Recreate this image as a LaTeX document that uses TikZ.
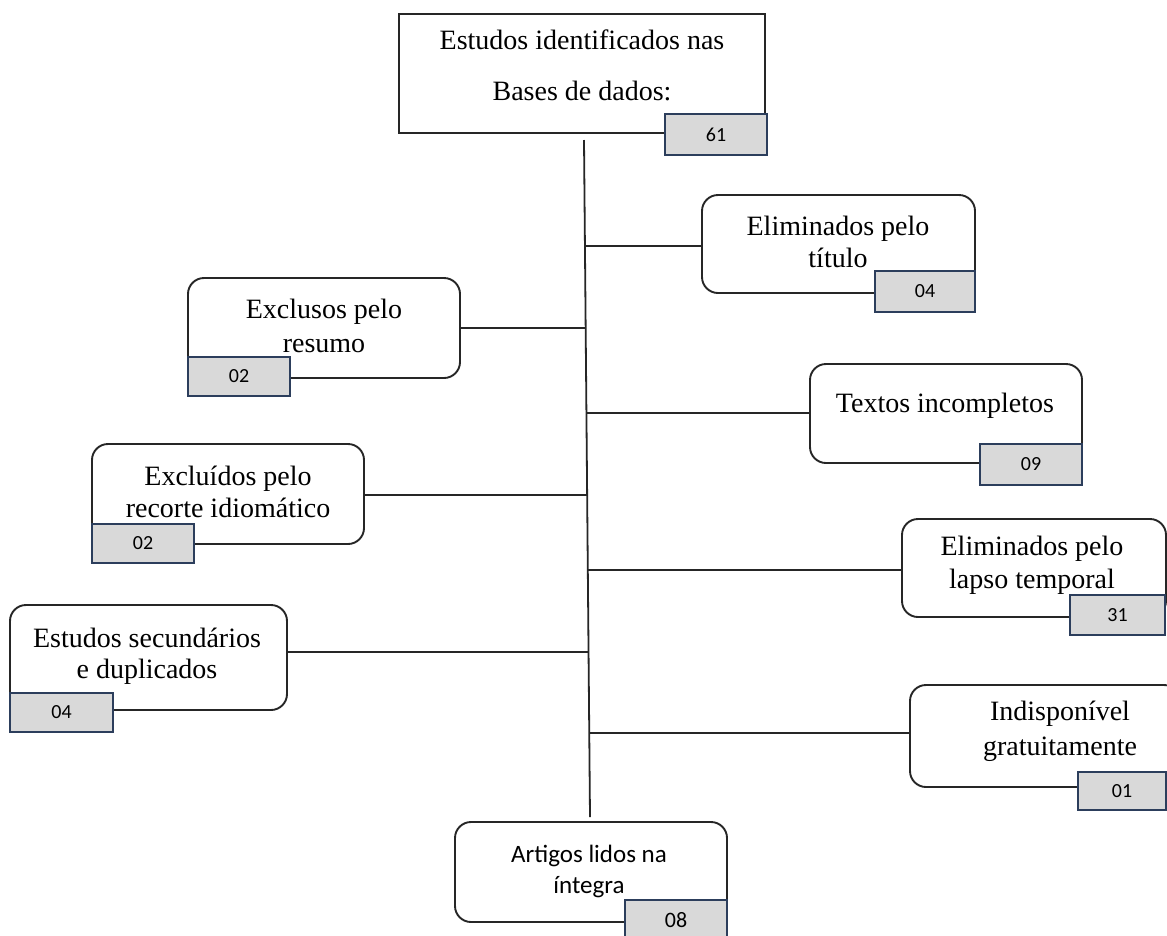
\documentclass[tikz,border=0pt]{standalone}
\usepackage{fontspec}
\setmainfont{Liberation Serif}
\newfontfamily\calfont{Carlito}
\definecolor{numblue}{RGB}{44,62,92}
\definecolor{numgray}{RGB}{217,217,217}
\newcommand\rbox[7]{\node[#1, minimum width={(#5)-(#3)}, minimum height={(#6)-(#4)}] (#2) at ({((#3)+(#5))/2},{((#4)+(#6))/2}) {#7};}
\tikzset{
  big/.style={draw=black!85, line width=1.9pt, rounded corners=16pt, fill=white, inner sep=0pt},
  topbox/.style={draw=black!85, line width=1.9pt, fill=white, inner sep=0pt},
  num/.style={draw=numblue, fill=numgray, line width=1.8pt, inner sep=0pt, font=\calfont\fontsize{20}{24}\selectfont},
  lbl/.style={font=\fontsize{28}{33}\selectfont, anchor=base, inner sep=0pt},
  clbl/.style={font=\calfont\fontsize{25}{30}\selectfont, anchor=base, inner sep=0pt},
  link/.style={draw=black!85, line width=1.8pt},
}
\begin{document}
\begin{tikzpicture}[x=1pt,y=-1pt]
\useasboundingbox (0,0) rectangle (1167,935);
\clip (0,0) rectangle (1167,935);
\fill[white] (0,0) rectangle (1167,935);
% trunk coordinates
\coordinate (trTop) at (584,140);
\coordinate (trBot) at (590,817);
\coordinate (j1) at (585,246);
\coordinate (j2) at (586,328);
\coordinate (j3) at (586.4,413);
\coordinate (j4) at (587.1,495);
\coordinate (j5) at (587.8,570);
\coordinate (j6) at (588.5,652);
\coordinate (j7) at (589.3,733);
% boxes
\rbox{topbox}{top}{399}{14}{765}{133}{}
\rbox{big}{titulo}{702}{195}{975}{293}{}
\rbox{big}{resumo}{188}{278}{460}{378}{}
\rbox{big}{textos}{810}{364}{1082}{463}{}
\rbox{big}{idiom}{92}{444}{364}{544}{}
\rbox{big}{lapso}{902}{519}{1166}{617}{}
\rbox{big}{secund}{10}{605}{287}{710}{}
\rbox{big}{indisp}{910}{685}{1180}{787}{}
\rbox{big}{artigos}{455}{822}{727}{922}{}
% connectors
\draw[link] (trTop) -- (trBot);
\draw[link] (j1) -- (titulo.west |- j1);
\draw[link] (j2) -- (resumo.east |- j2);
\draw[link] (j3) -- (textos.west |- j3);
\draw[link] (j4) -- (idiom.east |- j4);
\draw[link] (j5) -- (lapso.west |- j5);
\draw[link] (j6) -- (secund.east |- j6);
\draw[link] (j7) -- (indisp.west |- j7);
% labels
\node[lbl] (tA) at (582,49) {Estudos identificados nas};
\node[lbl] (tB) at (582,100) {Bases de dados:};
\node[lbl] (tiA) at (838,235) {Eliminados pelo};
\node[lbl] (tiB) at (838,267) {título};
\node[lbl] (reA) at (324,318) {Exclusos pelo};
\node[lbl] (reB) at (324,352) {resumo};
\node[lbl] (teA) at (945,412) {Textos incompletos};
\node[lbl] (idA) at (228,485) {Excluídos pelo};
\node[lbl] (idB) at (228,517) {recorte idiomático};
\node[lbl] (laA) at (1032,555) {Eliminados pelo};
\node[lbl] (laB) at (1032,588) {lapso temporal};
\node[lbl] (seA) at (147,647) {Estudos secundários};
\node[lbl] (seB) at (147,678) {e duplicados};
\node[lbl] (inA) at (1060,720) {Indisponível};
\node[lbl] (inB) at (1060,755) {gratuitamente};
\node[clbl] (arA) at (589,862) {Artigos lidos na};
\node[clbl] (arB) at (589,893) {íntegra};
% number boxes
\rbox{num}{n61}{665}{114}{767}{155}{61}
\rbox{num}{n04a}{875}{271}{975}{312}{04}
\rbox{num}{n02a}{188}{357}{290}{396}{02}
\rbox{num}{n09}{980}{444}{1082}{485}{09}
\rbox{num}{n02b}{92}{524}{194}{563}{02}
\rbox{num}{n31}{1070}{595}{1165}{635}{31}
\rbox{num}{n04b}{10}{693}{113}{732}{04}
\rbox{num}{n01}{1078}{772}{1166}{810}{01}
\rbox{num,font=\calfont\fontsize{22}{26}\selectfont}{n08}{625}{900}{727}{940}{08}
\end{tikzpicture}
\end{document}
